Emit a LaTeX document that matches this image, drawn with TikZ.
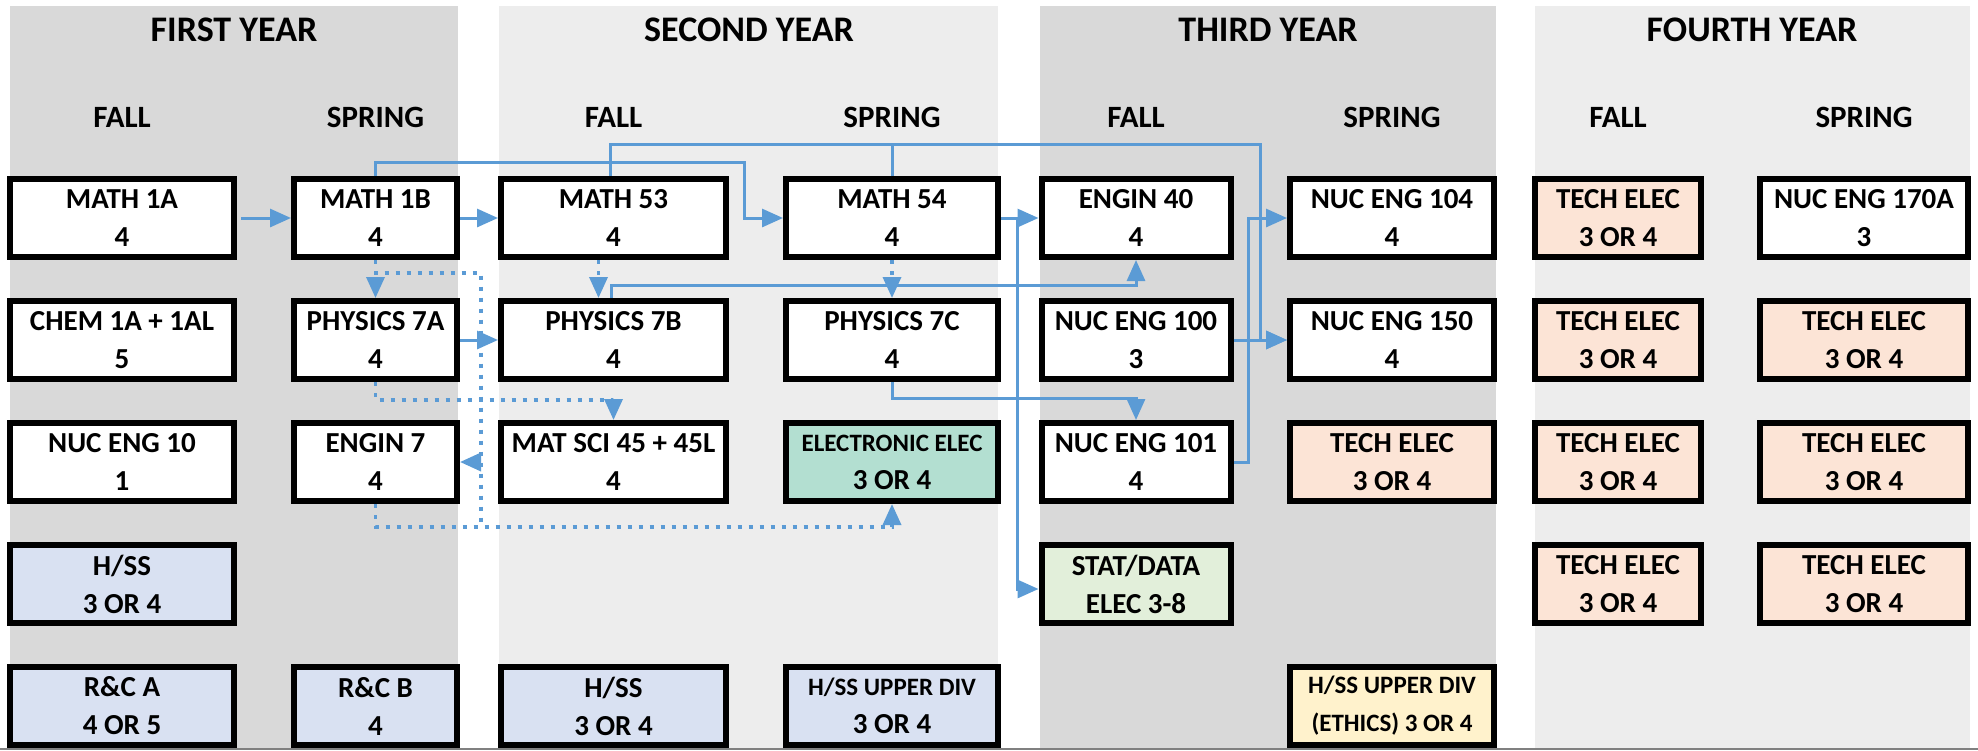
\documentclass[tikz,border=0pt]{standalone}
\usepackage{fontspec}
\setmainfont{Carlito}
\usetikzlibrary{arrows.meta}
\definecolor{bgdark}{HTML}{D9D9D9}
\definecolor{bglight}{HTML}{EDEDED}
\definecolor{hss}{HTML}{D9E1F2}
\definecolor{tech}{HTML}{FCE4D6}
\definecolor{elecc}{HTML}{B3DFD1}
\definecolor{statc}{HTML}{E2EFDA}
\definecolor{ethic}{HTML}{FFF2CC}
\definecolor{conn}{HTML}{5B9BD5}
\begin{document}
\begin{tikzpicture}[x=1pt,y=-1pt,
  course/.style={draw=black, line width=6pt, fill=white, inner sep=0pt, align=center,
    font=\bfseries\fontsize{29}{38}\selectfont, minimum height=78pt, outer sep=3pt},
  wA/.style={minimum width=224pt},
  wB/.style={minimum width=163pt},
  wC/.style={minimum width=225pt},
  wD/.style={minimum width=212pt},
  wE/.style={minimum width=189pt},
  wF/.style={minimum width=204pt},
  wG/.style={minimum width=166pt},
  wH/.style={minimum width=208pt},
  yeartitle/.style={font=\bfseries\fontsize{36}{40}\selectfont, inner sep=0pt},
  semtitle/.style={font=\bfseries\fontsize{31}{36}\selectfont, inner sep=0pt},
  small/.style={font=\bfseries\fontsize{25}{38}\selectfont},
  tipb/.style={-{Triangle[length=21pt,width=18pt]}},
  link/.style={draw=conn, line width=3pt},
  dots/.style={draw=conn, line width=3.5pt, dash pattern=on 4pt off 7pt},
]
\useasboundingbox (0,0) rectangle (1978,750);
% backgrounds
\fill[bgdark]  (10,6) rectangle (458,750);
\fill[bglight] (499,6) rectangle (998,750);
\fill[bgdark]  (1040,6) rectangle (1496,750);
\fill[bglight] (1535,6) rectangle (1970,750);
\draw[draw=gray, line width=2pt] (0,749) -- (1978,749);

% headers
\node[yeartitle] (y1) at (234,30) {FIRST YEAR};
\node[yeartitle] (y2) at (749,30) {SECOND YEAR};
\node[yeartitle] (y3) at (1268,30) {THIRD YEAR};
\node[yeartitle] (y4) at (1752,30) {FOURTH YEAR};
\node[semtitle] (s1) at (122,117) {FALL};
\node[semtitle] (s2) at (375.5,117) {SPRING};
\node[semtitle] (s3) at (613.5,117) {FALL};
\node[semtitle] (s4) at (892,117) {SPRING};
\node[semtitle] (s5) at (1136,117) {FALL};
\node[semtitle] (s6) at (1392,117) {SPRING};
\node[semtitle] (s7) at (1618,117) {FALL};
\node[semtitle] (s8) at (1864,117) {SPRING};

% row 1
\node[course,wA] (m1a) at (122,218) {MATH 1A\\4};
\node[course,wB] (m1b) at (375.5,218) {MATH 1B\\4};
\node[course,wC] (m53) at (613.5,218) {MATH 53\\4};
\node[course,wD] (m54) at (892,218) {MATH 54\\4};
\node[course,wE] (e40) at (1136,218) {ENGIN 40\\4};
\node[course,wF] (ne104) at (1392,218) {NUC ENG 104\\4};
\node[course,wG,fill=tech] (t71) at (1618,218) {TECH ELEC\\3 OR 4};
\node[course,wH] (ne170) at (1864,218) {NUC ENG 170A\\3};
% row 2
\node[course,wA] (chem) at (122,340) {CHEM 1A + 1AL\\5};
\node[course,wB] (p7a) at (375.5,340) {PHYSICS 7A\\4};
\node[course,wC] (p7b) at (613.5,340) {PHYSICS 7B\\4};
\node[course,wD] (p7c) at (892,340) {PHYSICS 7C\\4};
\node[course,wE] (ne100) at (1136,340) {NUC ENG 100\\3};
\node[course,wF] (ne150) at (1392,340) {NUC ENG 150\\4};
\node[course,wG,fill=tech] (t72) at (1618,340) {TECH ELEC\\3 OR 4};
\node[course,wH,fill=tech] (t82) at (1864,340) {TECH ELEC\\3 OR 4};
% row 3
\node[course,wA] (ne10) at (122,462) {NUC ENG 10\\1};
\node[course,wB] (e7) at (375.5,462) {ENGIN 7\\4};
\node[course,wC] (ms) at (613.5,462) {MAT SCI 45 + 45L\\4};
\node[course,wD,fill=elecc] (elec) at (892,462) {{\fontsize{25}{25}\selectfont ELECTRONIC ELEC}\\3 OR 4};
\node[course,wE] (ne101) at (1136,462) {NUC ENG 101\\4};
\node[course,wF,fill=tech] (t63) at (1392,462) {TECH ELEC\\3 OR 4};
\node[course,wG,fill=tech] (t73) at (1618,462) {TECH ELEC\\3 OR 4};
\node[course,wH,fill=tech] (t83) at (1864,462) {TECH ELEC\\3 OR 4};
% row 4
\node[course,wA,fill=hss] (hss1) at (122,584) {H/SS\\3 OR 4};
\node[course,wE,fill=statc] (stat) at (1136,584) {STAT/DATA\\ELEC 3-8};
\node[course,wG,fill=tech] (t74) at (1618,584) {TECH ELEC\\3 OR 4};
\node[course,wH,fill=tech] (t84) at (1864,584) {TECH ELEC\\3 OR 4};
% row 5
\node[course,wA,fill=hss] (rca) at (122,706) {R\&C A\\4 OR 5};
\node[course,wB,fill=hss] (rcb) at (375.5,706) {R\&C B\\4};
\node[course,wC,fill=hss] (hss3) at (613.5,706) {H/SS\\3 OR 4};
\node[course,wD,fill=hss] (hssu) at (892,706) {{\fontsize{25}{25}\selectfont H/SS UPPER DIV}\\3 OR 4};
\node[course,wF,fill=ethic,small] (eth) at (1392,706) {H/SS UPPER DIV\\(ETHICS) 3 OR 4};

% helper coordinates
\coordinate (k1) at (744,162);
\coordinate (k2) at (1260,144);
\coordinate (k3) at (1017,218);
\coordinate (k4) at (1136,285);
\coordinate (k5) at (1136,398);
\coordinate (k6) at (1248,462);
\coordinate (k7) at (481,273);
\coordinate (k8) at (481,462);
\coordinate (k9) at (481,527);
\coordinate (k10) at (613.5,400);
\coordinate (k11) at (892,527);

% solid connectors
\draw[link,tipb,shorten <=4pt] (m1a.east) -- (m1b.west);
\draw[link,tipb] (m1b.east) -- (m53.west);
\draw[link,tipb] (m1b.north) |- (k1) |- (m54.west);
\draw[link,tipb] ([xshift=-3pt]m53.north) |- (k2) |- (ne150.west);
\draw[link] (m54.north) -- (m54.north |- k2);
\draw[link,tipb] (m54.east) -- (e40.west);
\draw[link,tipb] (m54.east) -- (k3) |- ([yshift=-5pt]stat.west);
\draw[link,tipb] (p7a.east) -- (p7b.west);
\draw[link,tipb] ([xshift=-2pt]p7b.north) |- (k4) -- (e40.south);
\draw[link,tipb] (p7c.south) |- (k5) -- (ne101.north);
\draw[link,tipb] (ne100.east) -- (ne150.west);
\draw[link,tipb] (ne101.east) -- (k6) |- (ne104.west);

% dotted connectors
\draw[dots,tipb] (m1b.south) -- (p7a.north);
\draw[dots,tipb] ([xshift=-15pt]m53.south) -- ([xshift=-15pt]p7b.north);
\draw[dots,tipb] (m54.south) -- (p7c.north);
\draw[dots] (m1b.south) |- (k7) -- (k9);
\draw[dots,tipb] (k8) -- (e7.east);
\draw[dots,tipb] (p7a.south) |- (k10) -- (ms.north);
\draw[dots,tipb] (e7.south) |- (k11) -- (elec.south);
\end{tikzpicture}
\end{document}
